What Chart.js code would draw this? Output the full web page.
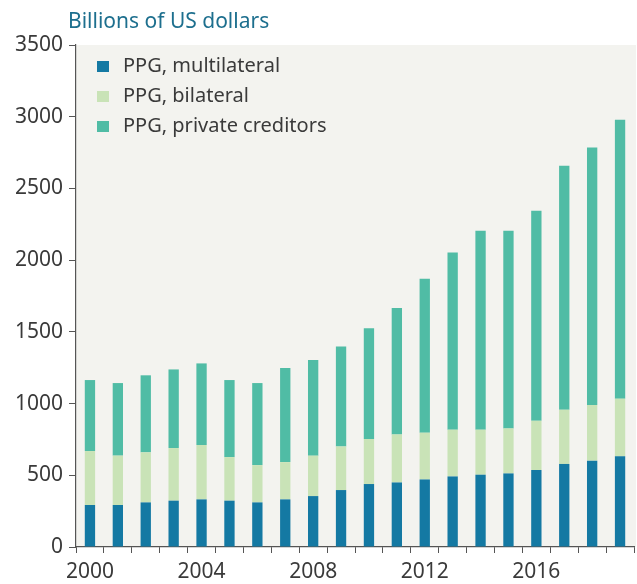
<!DOCTYPE html>
<html>
<head>
<meta charset="utf-8">
<script src="https://cdn.jsdelivr.net/npm/chart.js@4"></script>
<style>
  html, body { margin: 0; padding: 0; background: #fff; }
  #wrap { width: 637px; height: 584px; }
</style>
</head>
<body>
<div id="wrap"><canvas id="myChart" width="637" height="584"></canvas></div>
<script>
// data (billions of US dollars)
var years = ['2000','2001','2002','2003','2004','2005','2006','2007','2008','2009',
             '2010','2011','2012','2013','2014','2015','2016','2017','2018','2019'];
var multilateral = [293, 293, 311, 323, 332, 323, 311, 332, 355, 397,
                    439, 450, 471, 492, 504, 513, 537, 579, 602, 632];
var bilateral = [376, 344, 349, 367, 379, 304, 260, 260, 282, 304,
                 314, 335, 326, 326, 314, 314, 343, 378, 388, 402];
var privateCreditors = [495, 506, 537, 548, 569, 537, 572, 656, 666, 697,
                        773, 881, 1073, 1235, 1387, 1378, 1464, 1701, 1795, 1944];
var yTicks = [0, 500, 1000, 1500, 2000, 2500, 3000, 3500];

var FONT = '"Noto Sans", "Open Sans", sans-serif';
var TEXT = '#3a3a3a';

// background of plot area + title + in-plot legend
var decor = {
    id: 'decor',
    beforeDraw: function(chart) {
        var c = chart.ctx, a = chart.chartArea;
        c.save();
        c.fillStyle = '#f3f3ef';
        c.fillRect(a.left, a.top, a.right - a.left + 2, a.bottom - a.top);
        c.restore();
    },
    afterDraw: function(chart) {
        var c = chart.ctx, a = chart.chartArea;
        c.save();
        c.font = '21px ' + FONT;
        c.fillStyle = '#1d6f8e';
        c.textBaseline = 'alphabetic';
        c.fillText('Billions of US dollars', 68, 28);

        c.font = '20px ' + FONT;
        chart.data.datasets.forEach(function(ds, i) {
            var y = a.top + 21 + i * 30;
            c.fillStyle = ds.backgroundColor;
            c.fillRect(a.left + 21, y - 5, 12, 11);
            c.fillStyle = TEXT;
            c.textBaseline = 'middle';
            c.fillText(ds.label, a.left + 47, y);
        });
        c.restore();
    }
};

var graphData = {
    type: 'bar',
    data: {
        labels: years,
        datasets: [
            { label: 'PPG, multilateral', data: multilateral, backgroundColor: '#1479a3' },
            { label: 'PPG, bilateral', data: bilateral, backgroundColor: '#c9e3b7' },
            { label: 'PPG, private creditors', data: privateCreditors, backgroundColor: '#50bca5' }
        ]
    },
    options: {
        responsive: false,
        animation: false,
        layout: { padding: { top: 45, right: 3, left: 0, bottom: 0 } },
        datasets: { bar: { categoryPercentage: 1, barPercentage: 0.37, borderWidth: 0 } },
        plugins: { legend: { display: false }, tooltip: { enabled: false } },
        scales: {
            x: {
                stacked: true,
                offset: true,
                grid: { offset: true, drawOnChartArea: false, drawTicks: true, tickLength: 6, color: '#555' },
                border: { color: '#555', width: 1.2 },
                ticks: {
                    autoSkip: false, maxRotation: 0, padding: 6,
                    color: TEXT, font: { family: FONT, size: 21 },
                    callback: function(v, i) { return i % 4 === 0 ? years[i] : ''; }
                },
                afterFit: function(s) { s.height = 37; }
            },
            y: {
                stacked: true,
                min: 0, max: 3500,
                afterBuildTicks: function(s) { s.ticks = yTicks.map(function(v) { return { value: v }; }); },
                grid: { drawOnChartArea: false, drawTicks: true, tickLength: 7, color: '#555' },
                border: { color: '#555', width: 1.2 },
                ticks: {
                    padding: 6, color: TEXT, font: { family: FONT, size: 21 },
                    callback: function(v) { return String(v); }
                },
                afterFit: function(s) { s.width = 76; }
            }
        }
    },
    plugins: [decor]
};

var myChart = new Chart(document.getElementById('myChart'), graphData);
</script>
</body>
</html>
